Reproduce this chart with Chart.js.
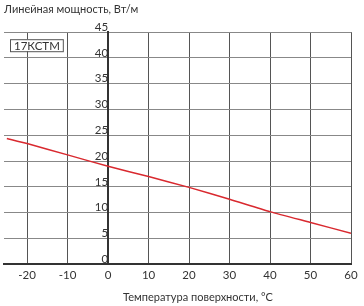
<!DOCTYPE html>
<html><head><meta charset="utf-8">
<script src="https://cdn.jsdelivr.net/npm/chart.js@4.4.0/dist/chart.umd.min.js"></script>
<style>html,body{margin:0;padding:0;background:#fff}#w{width:364px;height:306px}</style>
</head><body><div id="w"><canvas id="c"></canvas></div>
<script>
const temperatures = [-25, -20, -10, 0, 10, 20, 30, 40, 50, 60];
const power17KSTM = [24.4, 23.4, 21.2, 19.0, 17.0, 14.9, 12.6, 10.2, 8.1, 6.0];
const xTickValues = [-20, -10, 0, 10, 20, 30, 40, 50, 60];
const seriesLabel = '17КСТМ';
const yTitle = 'Линейная мощность, Вт/м';
const xTitle = 'Температура поверхности, °C';
const FONT = 'Lato, "Noto Sans", sans-serif';

const overlay = {
  id: 'overlay',
  afterDraw(chart) {
    const ctx = chart.ctx, a = chart.chartArea;
    ctx.save();
    ctx.font = '11.5px ' + FONT;
    const tw = ctx.measureText(seriesLabel).width;
    const bx = a.left + 6, by = a.top + 7, bw = tw + 7, bh = 12;
    ctx.fillStyle = '#fff';
    ctx.fillRect(bx, by, bw, bh);
    ctx.strokeStyle = '#555';
    ctx.lineWidth = 1;
    ctx.strokeRect(bx + 0.5, by + 0.5, bw, bh);
    ctx.fillStyle = '#333';
    ctx.textBaseline = 'middle';
    ctx.fillText(seriesLabel, bx + 4, by + bh / 2 + 1);
    ctx.font = '11px ' + FONT;
    ctx.textAlign = 'center';
    ctx.fillText(xTitle, 198, 297);
    ctx.restore();
  }
};

new Chart(document.getElementById('c'), {
  type: 'line',
  data: {
    labels: temperatures,
    datasets: [{
      label: seriesLabel,
      data: temperatures.map((t, i) => ({x: t, y: power17KSTM[i]})),
      borderColor: '#d9292f',
      borderWidth: 1.5,
      pointRadius: 0,
      tension: 0.2,
      fill: false
    }]
  },
  options: {
    responsive: true,
    maintainAspectRatio: false,
    animation: false,
    layout: {padding: {left: 4, right: 13, bottom: 20, top: 0}},
    plugins: {
      legend: {display: false},
      tooltip: {enabled: false},
      title: {
        display: true, text: yTitle, align: 'start', color: '#333',
        font: {family: FONT, size: 11, weight: 'normal'},
        padding: {top: 3, bottom: 16}
      }
    },
    scales: {
      x: {
        type: 'linear', min: -25.7, max: 60,
        ticks: {stepSize: 10, color: '#333', font: {family: FONT, size: 11.5}, padding: 4, maxRotation: 0},
        afterBuildTicks: s => { s.ticks = xTickValues.map(v => ({value: v})); },
        grid: {color: '#555', lineWidth: 1, drawTicks: false},
        border: {color: '#333', width: 2}
      },
      y: {
        position: {x: 0},
        min: 0, max: 45,
        ticks: {stepSize: 5, color: '#333', font: {family: FONT, size: 11.5}, padding: 3, labelOffset: -5},
        grid: {color: '#888', lineWidth: 1, drawTicks: false},
        border: {color: '#333', width: 2}
      }
    }
  },
  plugins: [overlay]
});
</script>
</body></html>
